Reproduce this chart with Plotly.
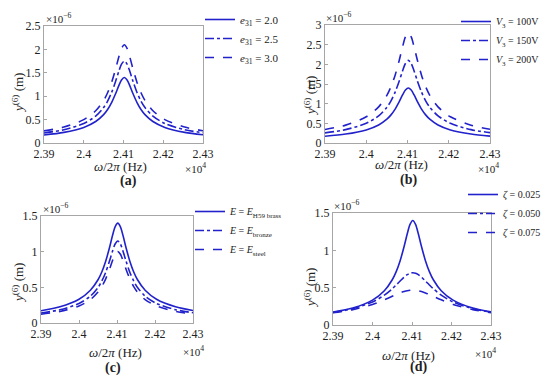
import plotly.graph_objects as go

# ---------------- data (frequency in Hz, displacement in 1e-6 m) ----------------
freq = [23900, 23950, 24000, 24030, 24050, 24060, 24070, 24080, 24088, 24095, 24102,
        24109, 24116, 24124, 24134, 24144, 24154, 24174, 24204, 24254, 24300]

# (a) piezoelectric constant e31
a_e31_20 = [0.172, 0.227, 0.333, 0.459, 0.606, 0.715, 0.862, 1.051, 1.222, 1.348, 1.400,
            1.348, 1.222, 1.051, 0.862, 0.715, 0.606, 0.459, 0.333, 0.227, 0.175]
a_e31_25 = [0.215, 0.284, 0.417, 0.574, 0.758, 0.894, 1.078, 1.314, 1.528, 1.685, 1.750,
            1.685, 1.528, 1.314, 1.078, 0.894, 0.758, 0.574, 0.417, 0.284, 0.219]
a_e31_30 = [0.258, 0.340, 0.500, 0.689, 0.909, 1.073, 1.294, 1.577, 1.833, 2.022, 2.100,
            2.022, 1.833, 1.577, 1.294, 1.073, 0.909, 0.689, 0.500, 0.340, 0.263]

# (b) voltage V3
b_v100 = [0.172, 0.227, 0.333, 0.459, 0.606, 0.715, 0.862, 1.051, 1.222, 1.348, 1.400,
          1.348, 1.222, 1.051, 0.862, 0.715, 0.606, 0.459, 0.333, 0.227, 0.175]
b_v150 = [0.258, 0.340, 0.500, 0.689, 0.909, 1.073, 1.294, 1.577, 1.833, 2.022, 2.100,
          2.022, 1.833, 1.577, 1.294, 1.073, 0.909, 0.689, 0.500, 0.340, 0.263]
b_v200 = [0.344, 0.454, 0.666, 0.918, 1.212, 1.431, 1.725, 2.103, 2.444, 2.696, 2.800,
          2.696, 2.444, 2.103, 1.725, 1.431, 1.212, 0.918, 0.666, 0.454, 0.350]

# (c) Young's modulus
c_brass = [0.172, 0.227, 0.333, 0.459, 0.606, 0.715, 0.862, 1.051, 1.222, 1.348, 1.400,
           1.348, 1.222, 1.051, 0.862, 0.715, 0.606, 0.459, 0.333, 0.227, 0.175]
c_bronze = [0.141, 0.186, 0.274, 0.377, 0.498, 0.588, 0.708, 0.864, 1.004, 1.107, 1.150,
            1.107, 1.004, 0.864, 0.708, 0.588, 0.498, 0.377, 0.274, 0.186, 0.144]
c_steel = [0.123, 0.162, 0.238, 0.328, 0.433, 0.511, 0.616, 0.751, 0.873, 0.963, 1.000,
           0.963, 0.873, 0.751, 0.616, 0.511, 0.433, 0.328, 0.238, 0.162, 0.125]

# (d) damping ratio zeta
d_z025 = [0.172, 0.227, 0.333, 0.459, 0.606, 0.715, 0.862, 1.051, 1.222, 1.348, 1.400,
          1.348, 1.222, 1.051, 0.862, 0.715, 0.606, 0.459, 0.333, 0.227, 0.175]
d_z050 = [0.168, 0.219, 0.308, 0.400, 0.485, 0.536, 0.589, 0.641, 0.674, 0.693, 0.700,
          0.693, 0.674, 0.641, 0.589, 0.536, 0.485, 0.400, 0.308, 0.219, 0.172]
d_z075 = [0.163, 0.206, 0.276, 0.337, 0.384, 0.408, 0.430, 0.448, 0.459, 0.465, 0.467,
          0.465, 0.459, 0.448, 0.430, 0.408, 0.384, 0.337, 0.276, 0.206, 0.165]

x_tickvals = [23900, 24000, 24100, 24200, 24300]
x_ticktext = ["2.39", "2.4", "2.41", "2.42", "2.43"]
y_ticks_a = [0, 0.5, 1, 1.5, 2, 2.5]
y_ticks_b = [0, 0.5, 1, 1.5, 2, 2.5, 3]
y_ticks_cd = [0, 0.5, 1, 1.5]

names_a = ["<i>e</i><sub>31</sub> = 2.0", "<i>e</i><sub>31</sub> = 2.5", "<i>e</i><sub>31</sub> = 3.0"]
names_b = ["<i>V</i><sub>3</sub> = 100V", "<i>V</i><sub>3</sub> = 150V", "<i>V</i><sub>3</sub> = 200V"]
names_c = ["<i>E</i> = <i>E</i><sub>H59 brass</sub>", "<i>E</i> = <i>E</i><sub>bronze</sub>",
           "<i>E</i> = <i>E</i><sub>steel</sub>"]
names_d = ["<i>ζ</i> = 0.025", "<i>ζ</i> = 0.050", "<i>ζ</i> = 0.075"]

# ---------------- layout helpers ----------------
W, H = 550, 376
SERIF = "Liberation Serif"
BLUE = "#2222cc"
AXC = "#a6a6a6"
TXT = "#222"
dashes = ["solid", "dashdot", "dash"]

def px(x):
    return x / W

def py(y):
    return 1 - y / H

fig = go.Figure()

panels = [
    # (series, names, yticks, ymax, xdomain px, ydomain px(top,bottom), legend id)
    ([a_e31_20, a_e31_25, a_e31_30], names_a, y_ticks_a, 2.5, (36, 195), (18, 135), "legend"),
    ([b_v100, b_v150, b_v200], names_b, y_ticks_b, 3.0, (317, 482), (17, 135), "legend2"),
    ([c_brass, c_bronze, c_steel], names_c, y_ticks_cd, 1.5, (33, 185), (208, 315), "legend3"),
    ([d_z025, d_z050, d_z075], names_d, y_ticks_cd, 1.5, (325, 483), (205, 317), "legend4"),
]

for i, (series, names, yt, ymax, xd, yd, leg) in enumerate(panels):
    sfx = "" if i == 0 else str(i + 1)
    for s, nm, ds in zip(series, names, dashes):
        fig.add_trace(go.Scatter(
            x=freq, y=s, name=nm, mode="lines",
            line=dict(color=BLUE, width=1.6, dash=ds, shape="spline", smoothing=0.8),
            xaxis="x" + sfx, yaxis="y" + sfx, legend=leg))
    ax = dict(showline=True, mirror=True, linecolor=AXC, linewidth=1,
              ticks="inside", ticklen=3, tickcolor=AXC, showgrid=False, zeroline=False,
              tickfont=dict(family=SERIF, size=12, color=TXT))
    fig.layout["xaxis" + sfx] = dict(ax, domain=[px(xd[0]), px(xd[1])], range=[23900, 24300],
                                     tickvals=x_tickvals, ticktext=x_ticktext,
                                     anchor="y" + sfx)
    fig.layout["yaxis" + sfx] = dict(ax, domain=[py(yd[1]), py(yd[0])], range=[0, ymax],
                                     tickvals=yt, ticktext=[("%g" % v) for v in yt],
                                     anchor="x" + sfx)

leg_common = dict(xanchor="left", yanchor="top", bgcolor="rgba(0,0,0,0)",
                  tracegroupgap=0, itemwidth=30)
fig.update_layout(
    legend=dict(leg_common, x=px(192), y=py(-3), font=dict(family=SERIF, size=11, color=TXT)),
    legend2=dict(leg_common, x=px(448), y=py(-1), font=dict(family=SERIF, size=10, color=TXT)),
    legend3=dict(leg_common, x=px(182), y=py(189), font=dict(family=SERIF, size=10, color=TXT)),
    legend4=dict(leg_common, x=px(455), y=py(172), font=dict(family=SERIF, size=10, color=TXT)),
)

ann = []
def text(x, y, t, size=12, xanchor="center", yanchor="middle", angle=0):
    ann.append(dict(x=px(x), y=py(y), xref="paper", yref="paper", text=t, showarrow=False,
                    xanchor=xanchor, yanchor=yanchor, textangle=angle, borderpad=0,
                    font=dict(family=SERIF, size=size, color=TXT)))

# exponent labels
for (x, y) in [(37, 18), (317, 17), (34, 208), (325, 205)]:
    text(x, y, "×10<sup>−6</sup>", 11, "left", "bottom")
for (x, y) in [(187, 160), (480, 160), (185, 343), (477, 345)]:
    text(x, y, "×10<sup>4</sup>", 11)
# x titles
for (x, y) in [(112, 158), (393, 156), (107, 344), (400, 347)]:
    text(x, y, "<i>ω</i>/2<i>π</i> (Hz)", 13)
# y titles
for (x, y) in [(10, 85), (302, 88), (10, 275), (302, 280)]:
    text(x, y, "<i>y</i><sup>(6)</sup> (m)", 13, angle=-90)
# panel labels
for (x, y, t) in [(120, 173, "(a)"), (400, 172, "(b)"), (105, 360, "(c)"), (410, 359, "(d)")]:
    text(x, y, "<b>%s</b>" % t, 14)

fig.update_layout(width=W, height=H,
                  margin=dict(l=0, r=0, t=0, b=0, autoexpand=False),
                  plot_bgcolor="white", paper_bgcolor="white", annotations=ann)

fig.write_html("out.html")
